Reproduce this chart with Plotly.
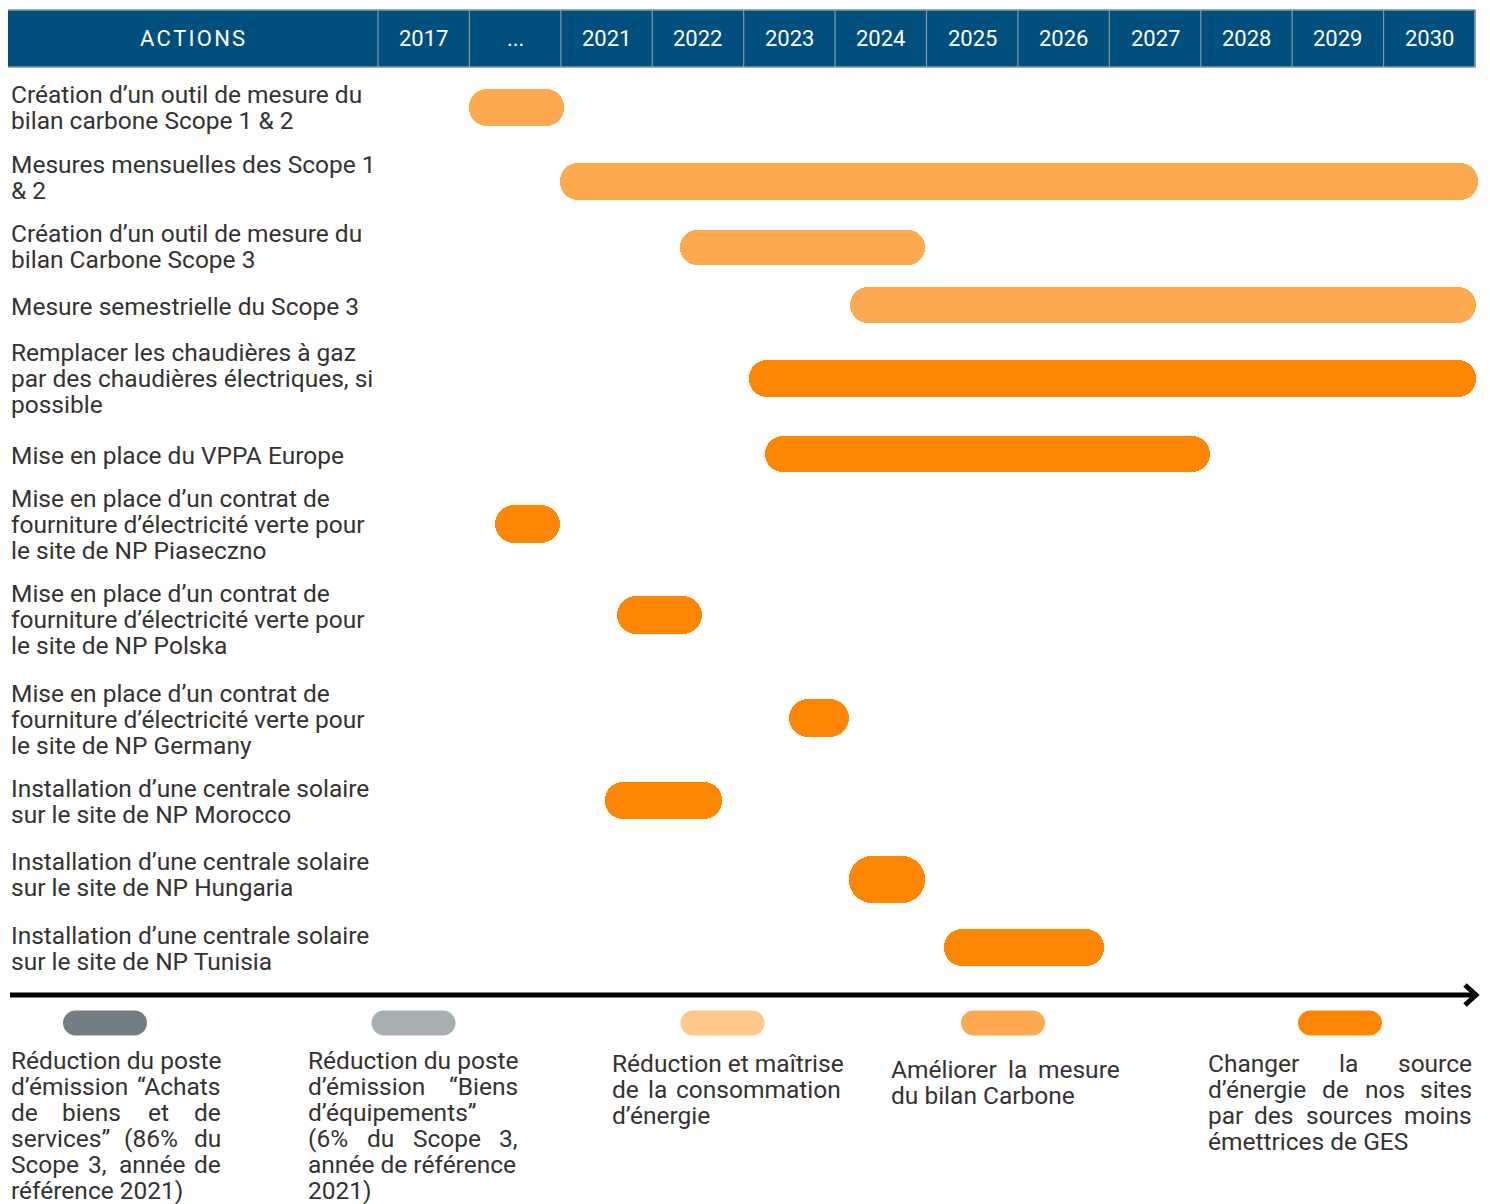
import plotly.graph_objects as go

# ------------------------------------------------------------------ data
header_labels = ["2017", "...", "2021", "2022", "2023", "2024", "2025",
                 "2026", "2027", "2028", "2029", "2030"]

actions = [
    "Création d’un outil de mesure du<br>bilan carbone Scope 1 & 2",
    "Mesures mensuelles des Scope 1<br>& 2",
    "Création d’un outil de mesure du<br>bilan Carbone Scope 3",
    "Mesure semestrielle du Scope 3",
    "Remplacer les chaudières à gaz<br>par des chaudières électriques, si<br>possible",
    "Mise en place du VPPA Europe",
    "Mise en place d’un contrat de<br>fourniture d’électricité verte pour<br>le site de NP Piaseczno",
    "Mise en place d’un contrat de<br>fourniture d’électricité verte pour<br>le site de NP Polska",
    "Mise en place d’un contrat de<br>fourniture d’électricité verte pour<br>le site de NP Germany",
    "Installation d’une centrale solaire<br>sur le site de NP Morocco",
    "Installation d’une centrale solaire<br>sur le site de NP Hungaria",
    "Installation d’une centrale solaire<br>sur le site de NP Tunisia",
]
# timeline values: 2021 = start of the "2021" column; the "2017" and "..."
# columns are compressed into 2019-2020 and 2020-2021
start_values = [2020.00, 2020.99, 2022.30, 2024.16, 2023.06, 2023.23,
                2020.28, 2021.61, 2023.50, 2021.48, 2024.15, 2025.19]
end_values = [2021.03, 2031.03, 2024.98, 2031.01, 2031.01, 2028.10,
              2020.99, 2022.54, 2024.15, 2022.76, 2024.98, 2026.94]
action_category = [3, 3, 3, 3, 4, 4, 4, 4, 4, 4, 4, 4]

legend_labels = [
    "Réduction du poste<br>d’émission “Achats<br>de biens et de<br>services” (86% du<br>Scope 3, année de<br>référence 2021)",
    "Réduction du poste<br>d’émission “Biens<br>d’équipements”<br>(6% du Scope 3,<br>année de référence<br>2021)",
    "Réduction et maîtrise<br>de la consommation<br>d’énergie",
    "Améliorer la mesure<br>du bilan Carbone",
    "Changer la source<br>d’énergie de nos sites<br>par des sources moins<br>émettrices de GES",
]
legend_colors = ["#737E84", "#A8AFB2", "#FFC78A", "#FCA94F", "#FF8505"]

# ------------------------------------------------------------------ layout constants
PAGE_OFF = 8                      # default body margin of the html page
W, H = 1490, 1204
COL_LEFT_PX = 378.0
COL_W_PX = 1097.0 / 12
YEAR0 = 2019.0
FONT = "Roboto, sans-serif"
TEXT_COLOR = "#333333"
HEADER_BLUE = "#014F7E"
HEADER_LINE = "#8796A3"

ROW_Y = [107, 181, 247, 305, 378, 454, 524, 615, 718, 800, 879, 947]
LABEL_Y = [107, 177, 246, 306, 378, 455, 524, 619, 719, 801, 874, 948]
BAR_T = [37, 37, 35, 36, 37, 36, 38, 38, 38, 37, 47, 37]
LINE_H = 26
LABEL_X = 9
FONT_SIZE = 24.5

HEADER_Y0, HEADER_Y1 = 10, 67
ARROW_Y = 995

LEG_PILL_CX = [105, 413.5, 722.5, 1003, 1340]
LEG_PILL_Y = 1023
LEG_PILL_W, LEG_PILL_H = 84, 25
LEG_TEXT_X0 = [8.5, 306, 610, 889, 1206]
LEG_TEXT_X1 = [223, 520, 843, 1122, 1474]
LEG_TEXT_Y = [1060, 1060, 1063, 1069, 1063]

x_range = [YEAR0 + (PAGE_OFF - COL_LEFT_PX) / COL_W_PX,
           YEAR0 + (W - COL_LEFT_PX) / COL_W_PX]

fig = go.Figure()

# ------------------------------------------------------------------ bars
for cat in sorted(set(action_category)):
    idx = [i for i, c in enumerate(action_category) if c == cat]
    fig.add_trace(go.Bar(
        y=[ROW_Y[i] for i in idx],
        base=[start_values[i] for i in idx],
        x=[end_values[i] - start_values[i] for i in idx],
        width=[BAR_T[i] for i in idx], orientation="h",
        marker=dict(color=legend_colors[cat], cornerradius="50%",
                    line=dict(width=0)),
        hoverinfo="skip", showlegend=False,
    ))

shapes = []
annotations = []

# ------------------------------------------------------------------ header
shapes.append(dict(type="rect", xref="x2", yref="y", x0=7, x1=1475,
                   y0=HEADER_Y0, y1=HEADER_Y1, fillcolor=HEADER_BLUE,
                   line=dict(color=HEADER_LINE, width=1.5), layer="below"))
for i in range(len(header_labels) + 1):
    shapes.append(dict(type="line", xref="x", yref="y", x0=YEAR0 + i, x1=YEAR0 + i,
                       y0=HEADER_Y0, y1=HEADER_Y1,
                       line=dict(color=HEADER_LINE, width=1.2)))
hdr_font = dict(family=FONT, size=22, color="white")
annotations.append(dict(xref="x2", yref="y", x=192.5, y=(HEADER_Y0 + HEADER_Y1) / 2,
                        text="\u200a".join("ACTIONS"), showarrow=False,
                        font=hdr_font, xanchor="center", yanchor="middle"))
for i, lab in enumerate(header_labels):
    annotations.append(dict(xref="x", yref="y", x=YEAR0 + i + 0.5,
                            y=(HEADER_Y0 + HEADER_Y1) / 2,
                            text=lab, showarrow=False, font=hdr_font,
                            xanchor="center", yanchor="middle"))

# ------------------------------------------------------------------ action labels
lab_font = dict(family=FONT, size=FONT_SIZE, color=TEXT_COLOR)
for text, yc in zip(actions, LABEL_Y):
    lines = text.split("<br>")
    n = len(lines)
    for k, ln in enumerate(lines):
        annotations.append(dict(xref="x2", yref="y", x=LABEL_X,
                                y=yc + (k - (n - 1) / 2) * LINE_H, text=ln,
                                showarrow=False, font=lab_font,
                                xanchor="left", yanchor="middle"))

# ------------------------------------------------------------------ arrow
shapes.append(dict(type="line", xref="x2", yref="y", x0=10, x1=1476,
                   y0=ARROW_Y, y1=ARROW_Y, line=dict(color="black", width=5)))
shapes.append(dict(type="path", xref="x2", yref="y",
                   path=f"M 1465 {ARROW_Y-10} L 1476 {ARROW_Y} L 1465 {ARROW_Y+10}",
                   line=dict(color="black", width=5)))


# ------------------------------------------------------------------ legend
def pill_path(cx, cy, w, h):
    r = h / 2
    k = 0.5523 * r
    x0, x1 = cx - w / 2, cx + w / 2
    y0, y1 = cy - r, cy + r
    return (f"M {x0+r} {y0} L {x1-r} {y0} "
            f"C {x1-r+k} {y0} {x1} {cy-k} {x1} {cy} "
            f"C {x1} {cy+k} {x1-r+k} {y1} {x1-r} {y1} "
            f"L {x0+r} {y1} "
            f"C {x0+r-k} {y1} {x0} {cy+k} {x0} {cy} "
            f"C {x0} {cy-k} {x0+r-k} {y0} {x0+r} {y0} Z")


# approximate Roboto advance widths (em) used to justify the legend text
CW = {'a': .530, 'b': .548, 'c': .512, 'd': .551, 'e': .518, 'f': .339, 'g': .548,
      'h': .538, 'i': .237, 'j': .233, 'k': .495, 'l': .237, 'm': .855, 'n': .539,
      'o': .556, 'p': .548, 'q': .555, 'r': .331, 's': .504, 't': .319, 'u': .538,
      'v': .473, 'w': .733, 'x': .484, 'y': .462, 'z': .484, 'A': .652, 'B': .622,
      'C': .651, 'E': .568, 'G': .681, 'R': .616, 'S': .594, '(': .342, ')': .348,
      ',': .196, '%': .732, '“': .314, '”': .314, '’': .195, ' ': .248}
ACC = {'é': 'e', 'è': 'e', 'à': 'a', 'î': 'i', 'É': 'E'}


def text_w(s):
    return 1.03 * sum(CW.get(ACC.get(ch, ch), .562) for ch in s) * FONT_SIZE


def plain(x, y, s, anchor="left"):
    return dict(xref="x2", yref="y", x=x, y=y, text=s, showarrow=False,
                font=lab_font, xanchor=anchor, yanchor="middle")


for j, (lab, col) in enumerate(zip(legend_labels, legend_colors)):
    shapes.append(dict(type="path", xref="x2", yref="y",
                       path=pill_path(LEG_PILL_CX[j], LEG_PILL_Y, LEG_PILL_W, LEG_PILL_H),
                       fillcolor=col, line=dict(width=0)))
    lines = lab.split("<br>")
    x0, x1 = LEG_TEXT_X0[j], LEG_TEXT_X1[j]
    for k, ln in enumerate(lines):
        y = LEG_TEXT_Y[j] + k * LINE_H
        words = ln.split(" ")
        if k == len(lines) - 1 or len(words) == 1:
            annotations.append(plain(x0, y, ln))
            continue
        widths = [text_w(w) for w in words]
        gap = (x1 - x0 - sum(widths)) / (len(words) - 1)
        if gap < 1.6 * CW[' '] * FONT_SIZE:
            annotations.append(plain(x0, y, ln))
            continue
        xc = x0
        for m, (wd, wid) in enumerate(zip(words, widths)):
            if m == 0:
                annotations.append(plain(x0, y, wd, "left"))
            elif m == len(words) - 1:
                annotations.append(plain(x1, y, wd, "right"))
            else:
                annotations.append(plain(xc + wid / 2, y, wd, "center"))
            xc += wid + gap

fig.update_layout(
    width=W - PAGE_OFF, height=H - PAGE_OFF,
    margin=dict(l=0, r=0, t=0, b=0),
    paper_bgcolor="white", plot_bgcolor="white",
    barmode="overlay", bargap=0,
    xaxis=dict(range=x_range, visible=False, fixedrange=True),
    xaxis2=dict(range=[PAGE_OFF, W], visible=False, overlaying="x", fixedrange=True),
    yaxis=dict(range=[H, PAGE_OFF], visible=False, fixedrange=True),
    shapes=shapes, annotations=annotations, showlegend=False,
)

fig.write_html("out.html")
